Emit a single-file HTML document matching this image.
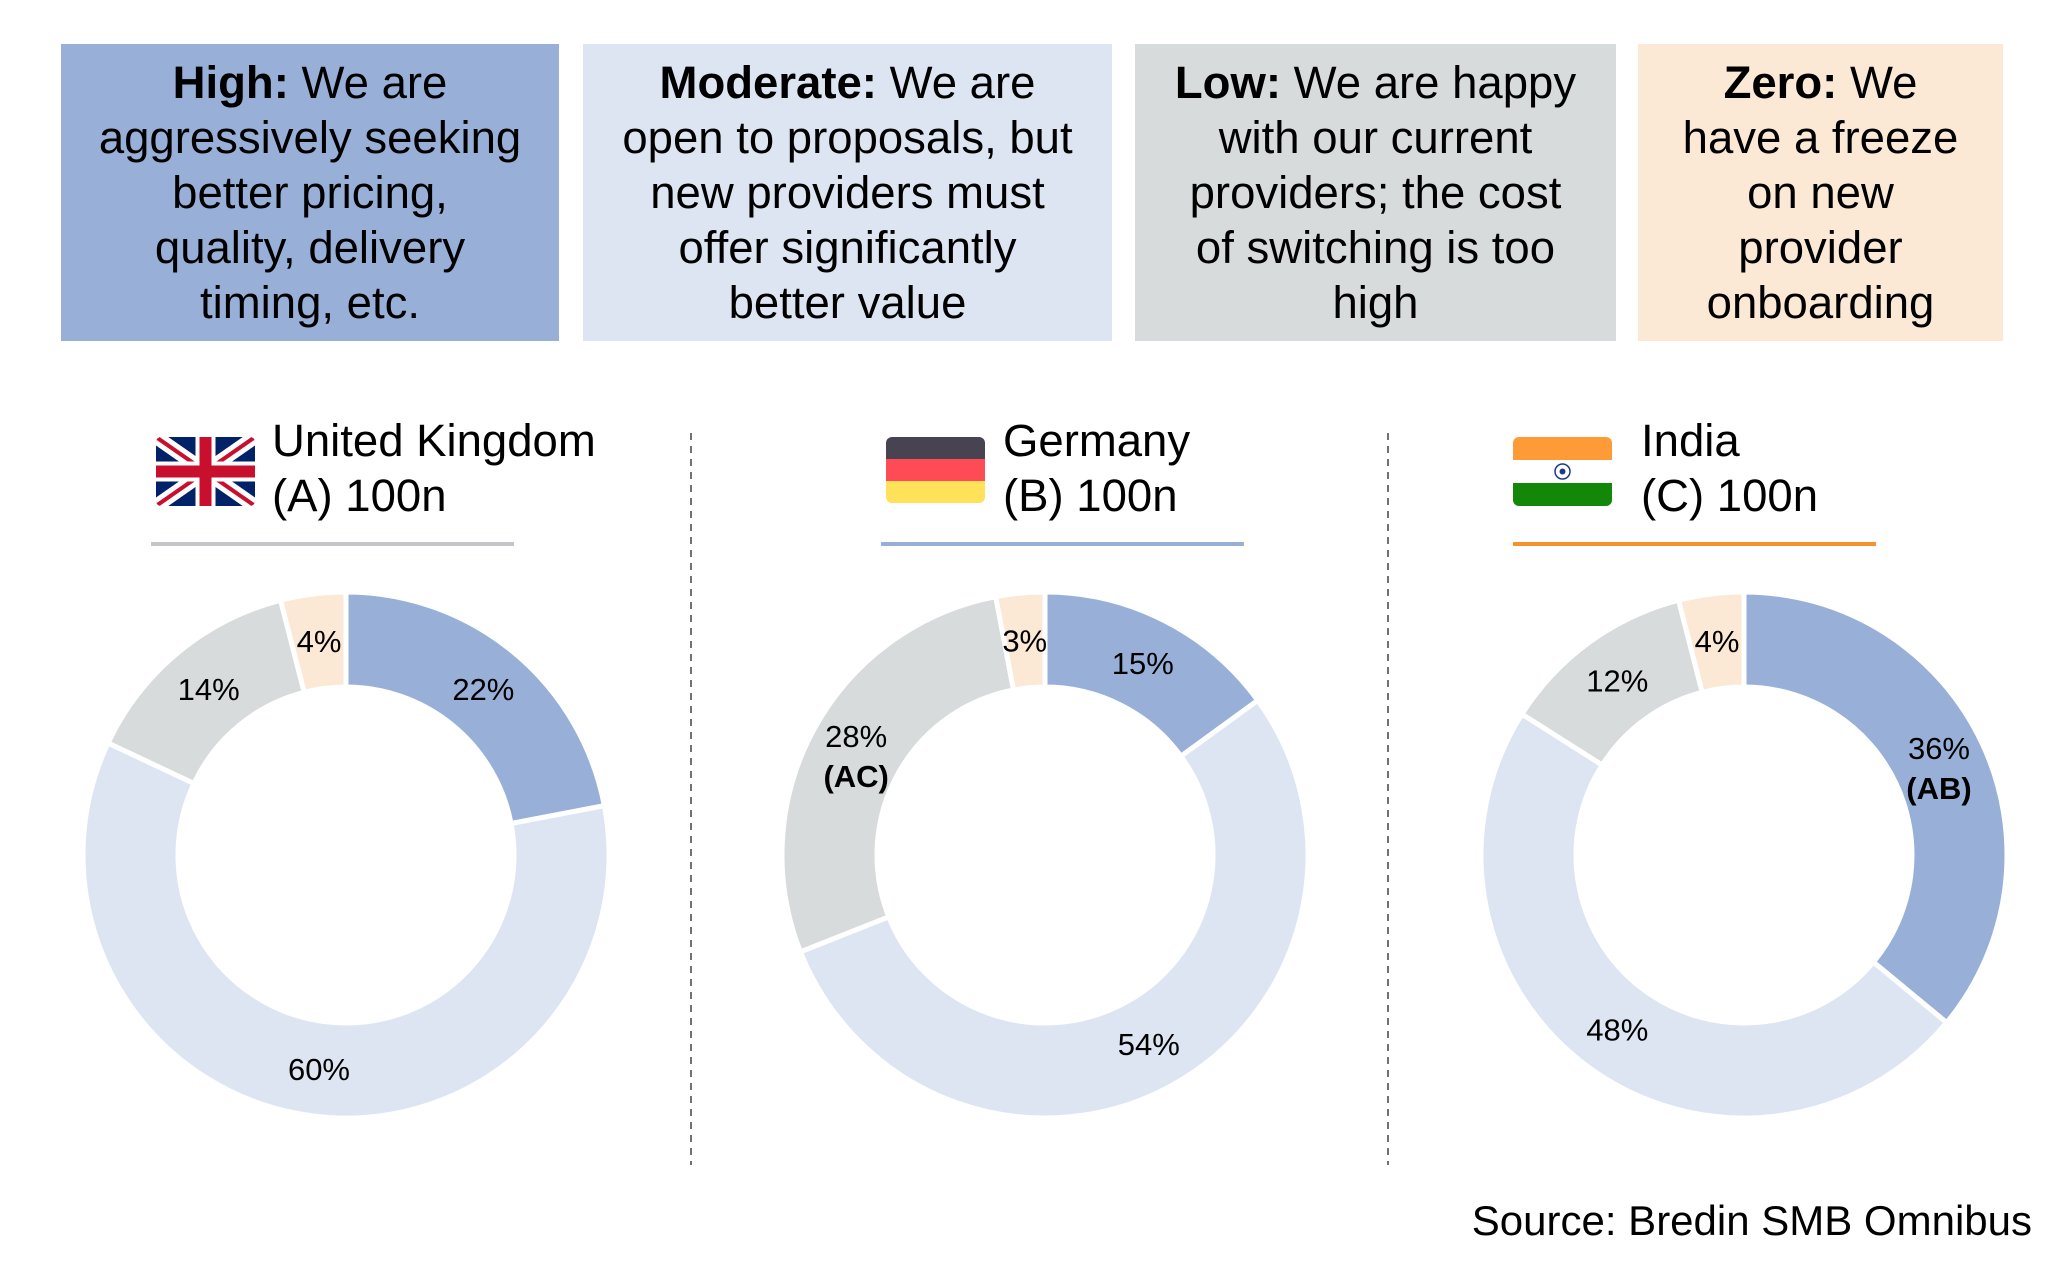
<!DOCTYPE html>
<html><head><meta charset="utf-8">
<style>
body{margin:0;width:2061px;height:1264px;background:#fff;font-family:"Liberation Sans",Arial,sans-serif;overflow:hidden;position:relative}
.box{position:absolute;top:44px;height:297px;display:flex;align-items:center;justify-content:center;text-align:center;font-size:45.5px;line-height:55px;color:#000}
.hd{position:absolute;font-size:45.5px;line-height:55px;color:#000}
</style></head><body>
<div class="box" style="left:61px;width:498px;background:#98b0d8"><div><b>High:</b> We are<br>aggressively seeking<br>better pricing,<br>quality, delivery<br>timing, etc.</div></div>
<div class="box" style="left:583px;width:529px;background:#dee5f2"><div><b>Moderate:</b> We are<br>open to proposals, but<br>new providers must<br>offer significantly<br>better value</div></div>
<div class="box" style="left:1135px;width:481px;background:#d7dbdb"><div><b>Low:</b> We are happy<br>with our current<br>providers; the cost<br>of switching is too<br>high</div></div>
<div class="box" style="left:1638px;width:365px;background:#fbe8d5"><div><b>Zero:</b> We<br>have a freeze<br>on new<br>provider<br>onboarding</div></div>

<div class="hd" style="left:272px;top:413px">United Kingdom<br>(A) 100n</div>
<div class="hd" style="left:1003px;top:413px">Germany<br>(B) 100n</div>
<div class="hd" style="left:1641px;top:413px">India<br>(C) 100n</div>
<div class="hd" style="right:29px;top:1193px;font-size:42px">Source: Bredin SMB Omnibus</div>

<svg id="s" width="2061" height="1264" style="position:absolute;left:0;top:0">
<g>
<clipPath id="cu"><rect x="156" y="437" width="99" height="69" rx="5"/></clipPath>
<g clip-path="url(#cu)">
<rect x="156" y="437" width="99" height="69" fill="#012169"/>
<path d="M156 437L255 506M255 437L156 506" stroke="#fff" stroke-width="14"/>
<path d="M156 437L255 506M255 437L156 506" stroke="#c8102e" stroke-width="4"/>
<path d="M205.5 437V506M156 471.5H255" stroke="#fff" stroke-width="20"/>
<path d="M205.5 437V506M156 471.5H255" stroke="#c8102e" stroke-width="12"/>
</g></g>
<g>
<clipPath id="cg"><rect x="886" y="437" width="99" height="66" rx="6"/></clipPath>
<g clip-path="url(#cg)">
<rect x="886" y="437" width="99" height="22" fill="#474350"/>
<rect x="886" y="459" width="99" height="22" fill="#ff4b55"/>
<rect x="886" y="481" width="99" height="22" fill="#ffe15a"/>
</g></g>
<g>
<clipPath id="ci"><rect x="1513" y="437" width="99" height="69" rx="6"/></clipPath>
<g clip-path="url(#ci)">
<rect x="1513" y="437" width="99" height="23" fill="#ff9b37"/>
<rect x="1513" y="460" width="99" height="23" fill="#fff"/>
<rect x="1513" y="483" width="99" height="23" fill="#138808"/>
</g>
<circle cx="1562.5" cy="471.5" r="7.5" fill="none" stroke="#1a3a8a" stroke-width="1.5"/>
<circle cx="1562.5" cy="471.5" r="3" fill="#1a3a8a"/>
</g>
<rect x="151" y="542" width="363" height="4" fill="#c4c7c9"/>
<rect x="881" y="542" width="363" height="4" fill="#98b0d8"/>
<rect x="1513" y="542" width="363" height="4" fill="#f4922d"/>
<line x1="691" y1="433" x2="691" y2="1165" stroke="#444" stroke-width="1.5" stroke-dasharray="7,6"/>
<line x1="1388" y1="433" x2="1388" y2="1165" stroke="#444" stroke-width="1.5" stroke-dasharray="7,6"/>
</svg>
<script>
const categories=["High","Moderate","Low","Zero"];
const ukValues=[22,60,14,4];
const deValues=[15,54,28,3];
const inValues=[36,48,12,4];
const extraLabels={de:[null,null,"(AC)",null],in:["(AB)",null,null,null]};
const colors=["#98b0d8","#dee5f2","#d7dbdb","#fbe8d5"];
const svg=document.getElementById('s');
const NS="http://www.w3.org/2000/svg";
const R=263,r=168;
function pt(cx,cy,rad,a){return [cx+rad*Math.sin(a),cy-rad*Math.cos(a)];}
function donut(key,cx,cy,vals){
  const total=vals.reduce((a,b)=>a+b,0);
  let acc=0;
  vals.forEach((v,i)=>{
    const a0=acc/total*2*Math.PI,a1=(acc+v)/total*2*Math.PI;acc+=v;
    const lg=(a1-a0)>Math.PI?1:0;
    const p1=pt(cx,cy,R,a0),p2=pt(cx,cy,R,a1),p3=pt(cx,cy,r,a1),p4=pt(cx,cy,r,a0);
    const p=document.createElementNS(NS,'path');
    p.setAttribute('d',`M${p1}A${R} ${R} 0 ${lg} 1 ${p2}L${p3}A${r} ${r} 0 ${lg} 0 ${p4}Z`);
    p.setAttribute('fill',colors[i]);p.setAttribute('stroke','#fff');p.setAttribute('stroke-width','5');
    
    
    svg.appendChild(p);
    const m=pt(cx,cy,(R+r)/2,(a0+a1)/2);
    const ex=extraLabels[key]&&extraLabels[key][i];
    const t=document.createElementNS(NS,'text');
    t.setAttribute('x',m[0]);t.setAttribute('y',ex?m[1]-4:m[1]+11);
    t.setAttribute('text-anchor','middle');t.setAttribute('font-size','31');
    t.setAttribute('font-family','Liberation Sans, Arial, sans-serif');
    t.textContent=v+'%';
    
    
    svg.appendChild(t);
    if(ex){const t2=document.createElementNS(NS,'text');
      t2.setAttribute('x',m[0]);t2.setAttribute('y',m[1]+36);
      t2.setAttribute('text-anchor','middle');t2.setAttribute('font-size','31');t2.setAttribute('font-weight','bold');
      t2.setAttribute('font-family','Liberation Sans, Arial, sans-serif');
      t2.textContent=ex;
      
      
      svg.appendChild(t2);}
  });
}
donut('uk',346,855,ukValues);
donut('de',1045,855,deValues);
donut('in',1744,855,inValues);
</script>
</body></html>
